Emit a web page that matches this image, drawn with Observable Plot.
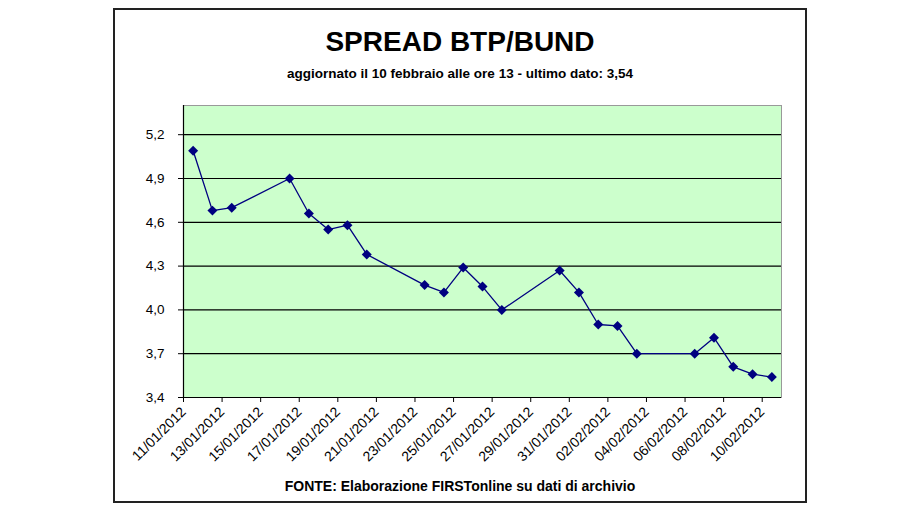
<!DOCTYPE html>
<html>
<head>
<meta charset="utf-8">
<script src="https://cdn.jsdelivr.net/npm/d3@7"></script>
<script src="https://cdn.jsdelivr.net/npm/@observablehq/plot@0.6"></script>
<style>
  html, body { margin: 0; padding: 0; background: #fff; }
  #wrap { position: relative; width: 920px; height: 510px; overflow: hidden; font-family: "Liberation Sans", Arial, sans-serif; }
  #frame { position: absolute; left: 113px; top: 8px; width: 690px; height: 491px; border: 2px solid #222; box-sizing: content-box; }
  .txt { position: absolute; left: 113px; width: 694px; text-align: center; font-weight: bold; color: #000; white-space: nowrap; }
  #title { top: 26px; font-size: 28px; line-height: 32px; }
  #subtitle { top: 66px; font-size: 13.5px; line-height: 16px; }
  #caption { top: 478px; font-size: 14px; line-height: 16px; }
  #chart { position: absolute; left: 0; top: 0; }
  #chart g[aria-label="x-axis tick label"] { font-size: 14px; }
  #chart g[aria-label="y-axis tick label"] { font-size: 13.5px; }
</style>
</head>
<body>
<div id="wrap">
  <div id="frame"></div>
  <div id="chart"></div>
  <div id="title" class="txt">SPREAD BTP/BUND</div>
  <div id="subtitle" class="txt">aggiornato il 10 febbraio alle ore 13 - ultimo dato: 3,54</div>
  <div id="caption" class="txt">FONTE: Elaborazione FIRSTonline su dati di archivio</div>
</div>
<script>
// Data
const dates = ["2012-01-11","2012-01-12","2012-01-13","2012-01-16","2012-01-17","2012-01-18","2012-01-19","2012-01-20","2012-01-23","2012-01-24","2012-01-25","2012-01-26","2012-01-27","2012-01-30","2012-01-31","2012-02-01","2012-02-02","2012-02-03","2012-02-06","2012-02-07","2012-02-08","2012-02-09","2012-02-10"];
const spread = [5.09,4.68,4.70,4.90,4.66,4.55,4.58,4.38,4.17,4.12,4.29,4.16,4.00,4.27,4.12,3.90,3.89,3.70,3.70,3.81,3.61,3.56,3.54];
const xTickLabels = ["11/01/2012","13/01/2012","15/01/2012","17/01/2012","19/01/2012","21/01/2012","23/01/2012","25/01/2012","27/01/2012","29/01/2012","31/01/2012","02/02/2012","04/02/2012","06/02/2012","08/02/2012","10/02/2012"];
const xDomain = ["2012-01-11","2012-02-11"];
const yTicks = [3.4,3.7,4.0,4.3,4.6,4.9,5.2];
const yDomain = [3.4,5.4];

const parseDMY = s => { const [d,m,y] = s.split("/").map(Number); return new Date(Date.UTC(y, m-1, d)); };
const parseISO = s => { const [y,m,d] = s.split("-").map(Number); return new Date(Date.UTC(y, m-1, d)); };
const xTickDates = xTickLabels.map(parseDMY);
// each daily value sits in the middle of its day slot (Excel date axis)
const data = dates.map((s, i) => ({date: new Date(parseISO(s).getTime() + 12*3600*1000), value: spread[i]}));
const x0 = parseISO(xDomain[0]);

const chart = Plot.plot({
  width: 920,
  height: 510,
  marginLeft: 183,
  marginRight: 139,
  marginTop: 105,
  marginBottom: 113,
  style: {background: "transparent", fontFamily: "'Liberation Sans', Arial, sans-serif", fontSize: "13px", color: "#000"},
  x: {
    type: "utc",
    domain: xDomain.map(parseISO),
    ticks: xTickDates,
    tickFormat: d => xTickLabels[xTickDates.findIndex(t => +t === +d)],
    tickRotate: -45,
    tickSize: 5,
    tickPadding: 7,
    label: null
  },
  y: {
    domain: yDomain,
    ticks: yTicks,
    tickFormat: d => d.toFixed(1).replace(".", ","),
    tickSize: 5,
    tickPadding: 14,
    label: null
  },
  marks: [
    Plot.frame({fill: "#ccffcc", stroke: "#999", strokeWidth: 1}),
    Plot.ruleY(yTicks.slice(1), {stroke: "#000", strokeWidth: 1.2}),
    Plot.ruleY([yDomain[0]], {stroke: "#000", strokeWidth: 1.2}),
    Plot.ruleX([x0], {stroke: "#000", strokeWidth: 1.2}),
    Plot.line(data, {x: "date", y: "value", stroke: "#000080", strokeWidth: 1.3}),
    Plot.dot(data, {x: "date", y: "value", symbol: "diamond2", fill: "#000080", stroke: "none", r: 4.5})
  ]
});
document.getElementById("chart").appendChild(chart);
</script>
</body>
</html>
